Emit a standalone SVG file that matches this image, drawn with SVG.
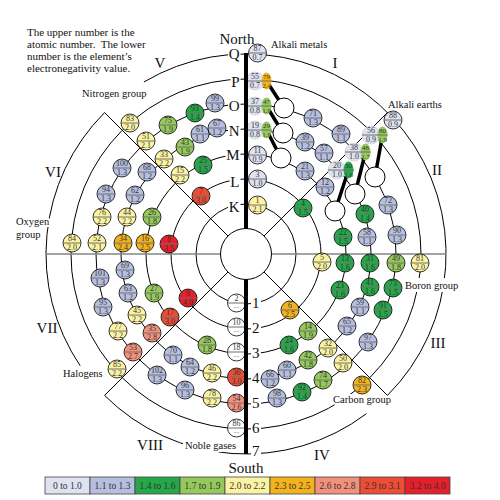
<svg xmlns="http://www.w3.org/2000/svg" width="500" height="500" viewBox="0 0 500 500">
<style>
.ring{fill:none;stroke:#000;stroke-width:1}
.hl{stroke:#858585;stroke-width:1.6;fill:none}
.dg{stroke:#000;stroke-width:1;fill:none}
.tk{stroke:#000;stroke-width:3.5;fill:none}
.vl{stroke:#000;stroke-width:4;fill:none}
.el circle{stroke:#000;stroke-width:.8}
.cb circle{stroke:#c4c4c4;stroke-width:.6}
.cb ellipse{stroke:none}
.el path,.cb path{stroke:#6e6e6e;stroke-width:1}
.el text,.cb text{font-family:'Liberation Serif',serif;font-size:8px;text-anchor:middle;fill:#333}
.cb text.s{font-size:7px}
.w circle{fill:#fff;stroke:#000;stroke-width:1}
.f0{fill:#dfe3f1}.f1{fill:#b7bfe0}.f2{fill:#26a84a}.f3{fill:#95c95c}.f4{fill:#fbf3a2}
.f5{fill:#f4b31c}.f6{fill:#f4917c}.f7{fill:#ee4d35}.f8{fill:#e71f2a}.fw{fill:#fff}
.nd{fill:#999!important}
.bg{fill:#fff}
.big{font-family:'Liberation Serif',serif;font-size:15px;fill:#111}
.rl{font-family:'Liberation Serif',serif;font-size:15px;fill:#111}
.gl{font-family:'Liberation Serif',serif;font-size:10.5px;fill:#111;paint-order:stroke;stroke:#fff;stroke-width:4px;stroke-linejoin:round}
.info{font-family:'Liberation Serif',serif;font-size:11px;fill:#111}
.lg rect{stroke:#444;stroke-width:.8}
.lg text{font-family:'Liberation Serif',serif;font-size:9.5px;text-anchor:middle;fill:#333}
</style>

<g id="connectors">
<circle class="ring" cx="246" cy="254" r="50"/>
<circle class="ring" cx="246" cy="254" r="75"/>
<circle class="ring" cx="246" cy="254" r="100"/>
<circle class="ring" cx="246" cy="254" r="125"/>
<circle class="ring" cx="246" cy="254" r="150"/>
<circle class="ring" cx="246" cy="254" r="175"/>
<path class="ring" d="M143.9 82A200 200 0 0 1 387.42 395.42M366.4 413.7A200 200 0 0 1 104.58 395.42M80.2 365.8A200 200 0 0 1 104.58 112.58"/>
<path class="hl" d="M46 254H446"/>
<path class="dg" d="M104.58 112.58L387.42 395.42M387.42 112.58L104.58 395.42"/>
<path class="tk" d="M266.5 81L284 108M266.5 106L283 133M266.5 130L281 158M382.5 135L375 177M365.5 152L355 194M348.5 170L335 211"/>
</g>

<g id="label-backs">
<rect class="bg" x="228" y="47" width="12.5" height="14"/>
<rect class="bg" x="230.5" y="75" width="10" height="14"/>
<rect class="bg" x="228" y="99" width="12.5" height="14"/>
<rect class="bg" x="228" y="124" width="12.5" height="14"/>
<rect class="bg" x="225.5" y="148" width="15" height="14"/>
<rect class="bg" x="229.5" y="175" width="11" height="14"/>
<rect class="bg" x="228" y="200" width="12.5" height="14"/>
<rect class="bg" x="251" y="296" width="10" height="14"/>
<rect class="bg" x="251" y="321" width="10" height="14"/>
<rect class="bg" x="251" y="346" width="10" height="14"/>
<rect class="bg" x="251" y="371" width="10" height="14"/>
<rect class="bg" x="251" y="396" width="10" height="14"/>
<rect class="bg" x="251" y="421" width="10" height="14"/>
<rect class="bg" x="251" y="445" width="10" height="14"/>
<rect class="bg" x="402" y="278" width="60" height="14"/>
<rect class="bg" x="183" y="440" width="55" height="12"/>
</g>

<g id="whites" class="w">
<circle id="w1" cx="284" cy="108" r="10"/>
<circle id="w2" cx="283" cy="133" r="10"/>
<circle id="w3" cx="281" cy="158" r="10"/>
<circle id="w4" cx="375" cy="177" r="10"/>
<circle id="w5" cx="355" cy="194" r="10"/>
<circle id="w6" cx="335" cy="211" r="10"/>
</g>

<g id="elements">
<g id="e1" class="el" transform="translate(257.5 205)"><circle r="9" class="f4"/><path d="M-9 0h18"/><text y="-1.8">1</text><text y="7">2.1</text></g>
<g id="e2" class="el" transform="translate(236.5 303)"><circle r="9" class="fw"/><path d="M-9 0h18"/><text y="-1.8">2</text><text y="7" class="nd">--</text></g>
<g id="e3" class="el" transform="translate(257.5 179)"><circle r="9" class="f0"/><path d="M-9 0h18"/><text y="-1.8">3</text><text y="7">1.0</text></g>
<g id="e4" class="el" transform="translate(303 208)"><circle r="9" class="f2"/><path d="M-9 0h18"/><text y="-1.8">4</text><text y="7">1.5</text></g>
<g id="e5" class="el" transform="translate(322 262)"><circle r="9" class="f4"/><path d="M-9 0h18"/><text y="-1.8">5</text><text y="7">2.0</text></g>
<g id="e6" class="el" transform="translate(290 310)"><circle r="9" class="f5"/><path d="M-9 0h18"/><text y="-1.8">6</text><text y="7">2.5</text></g>
<g id="e7" class="el" transform="translate(201 196)"><circle r="9" class="f7"/><path d="M-9 0h18"/><text y="-1.8">7</text><text y="7">3.0</text></g>
<g id="e8" class="el" transform="translate(169 244)"><circle r="9" class="f8"/><path d="M-9 0h18"/><text y="-1.8">8</text><text y="7">3.5</text></g>
<g id="e9" class="el" transform="translate(188 298)"><circle r="9" class="f8"/><path d="M-9 0h18"/><text y="-1.8">9</text><text y="7">4.0</text></g>
<g id="e10" class="el" transform="translate(236.5 327)"><circle r="9" class="fw"/><path d="M-9 0h18"/><text y="-1.8">10</text><text y="7" class="nd">--</text></g>
<g id="e11" class="el" transform="translate(257.5 155)"><circle r="9" class="f0"/><path d="M-9 0h18"/><text y="-1.8">11</text><text y="7">0.9</text></g>
<g id="e12" class="el" transform="translate(325 187)"><circle r="9" class="f1"/><path d="M-9 0h18"/><text y="-1.8">12</text><text y="7">1.2</text></g>
<g id="e13" class="el" transform="translate(345 263)"><circle r="9" class="f2"/><path d="M-9 0h18"/><text y="-1.8">13</text><text y="7">1.6</text></g>
<g id="e14" class="el" transform="translate(308 331)"><circle r="9" class="f3"/><path d="M-9 0h18"/><text y="-1.8">14</text><text y="7">1.9</text></g>
<g id="e15" class="el" transform="translate(180 175)"><circle r="9" class="f4"/><path d="M-9 0h18"/><text y="-1.8">15</text><text y="7">2.2</text></g>
<g id="e16" class="el" transform="translate(145 243)"><circle r="9" class="f5"/><path d="M-9 0h18"/><text y="-1.8">16</text><text y="7">2.5</text></g>
<g id="e17" class="el" transform="translate(170 317)"><circle r="9" class="f7"/><path d="M-9 0h18"/><text y="-1.8">17</text><text y="7">3.0</text></g>
<g id="e18" class="el" transform="translate(236.5 352)"><circle r="9" class="fw"/><path d="M-9 0h18"/><text y="-1.8">18</text><text y="7" class="nd">--</text></g>
<g id="e19" class="cb" transform="translate(255 130)"><circle r="9" class="f0"/><path d="M-9 0h25.5"/><text y="-1.8">19</text><text y="7">0.8</text></g>
<g id="e29" class="cb" transform="translate(266.5 130)"><ellipse rx="5" ry="8.5" class="f3"/><path d="M-5 0h10"/><text class="s" y="-1.8">29</text><text class="s" y="7">1.9</text></g>
<g id="e20" class="cb" transform="translate(337 170)"><circle r="9" class="f0"/><path d="M-9 0h25.5"/><text y="-1.8">20</text><text y="7">1.0</text></g>
<g id="e30" class="cb" transform="translate(348.5 170)"><ellipse rx="5" ry="8.5" class="f2"/><path d="M-5 0h10"/><text class="s" y="-1.8">30</text><text class="s" y="7">1.6</text></g>
<g id="e21" class="el" transform="translate(305 171)"><circle r="9" class="f1"/><path d="M-9 0h18"/><text y="-1.8">21</text><text y="7">1.3</text></g>
<g id="e22" class="el" transform="translate(343 237)"><circle r="9" class="f2"/><path d="M-9 0h18"/><text y="-1.8">22</text><text y="7">1.5</text></g>
<g id="e23" class="el" transform="translate(340 290)"><circle r="9" class="f2"/><path d="M-9 0h18"/><text y="-1.8">23</text><text y="7">1.6</text></g>
<g id="e24" class="el" transform="translate(289 345)"><circle r="9" class="f2"/><path d="M-9 0h18"/><text y="-1.8">24</text><text y="7">1.6</text></g>
<g id="e25" class="el" transform="translate(203 165)"><circle r="9" class="f2"/><path d="M-9 0h18"/><text y="-1.8">25</text><text y="7">1.5</text></g>
<g id="e26" class="el" transform="translate(152 217)"><circle r="9" class="f3"/><path d="M-9 0h18"/><text y="-1.8">26</text><text y="7">1.8</text></g>
<g id="e27" class="el" transform="translate(154 293)"><circle r="9" class="f3"/><path d="M-9 0h18"/><text y="-1.8">27</text><text y="7">1.9</text></g>
<g id="e28" class="el" transform="translate(207 345)"><circle r="9" class="f3"/><path d="M-9 0h18"/><text y="-1.8">28</text><text y="7">1.8</text></g>
<g id="e31" class="el" transform="translate(370 263)"><circle r="9" class="f2"/><path d="M-9 0h18"/><text y="-1.8">31</text><text y="7">1.6</text></g>
<g id="e32" class="el" transform="translate(328 348)"><circle r="9" class="f4"/><path d="M-9 0h18"/><text y="-1.8">32</text><text y="7">2.0</text></g>
<g id="e33" class="el" transform="translate(164 159)"><circle r="9" class="f4"/><path d="M-9 0h18"/><text y="-1.8">33</text><text y="7">2.2</text></g>
<g id="e34" class="el" transform="translate(123 243)"><circle r="9" class="f5"/><path d="M-9 0h18"/><text y="-1.8">34</text><text y="7">2.4</text></g>
<g id="e35" class="el" transform="translate(152 333)"><circle r="9" class="f6"/><path d="M-9 0h18"/><text y="-1.8">35</text><text y="7">2.8</text></g>
<g id="e36" class="el" transform="translate(236.5 377)"><circle r="9" class="f7"/><path d="M-9 0h18"/><text y="-1.8">36</text><text y="7">3.0</text></g>
<g id="e37" class="cb" transform="translate(255 106)"><circle r="9" class="f0"/><path d="M-9 0h25.5"/><text y="-1.8">37</text><text y="7">0.8</text></g>
<g id="e47" class="cb" transform="translate(266.5 106)"><ellipse rx="5" ry="8.5" class="f3"/><path d="M-5 0h10"/><text class="s" y="-1.8">47</text><text class="s" y="7">1.9</text></g>
<g id="e38" class="cb" transform="translate(354 152)"><circle r="9" class="f0"/><path d="M-9 0h25.5"/><text y="-1.8">38</text><text y="7">1.0</text></g>
<g id="e48" class="cb" transform="translate(365.5 152)"><ellipse rx="5" ry="8.5" class="f3"/><path d="M-5 0h10"/><text class="s" y="-1.8">48</text><text class="s" y="7">1.7</text></g>
<g id="e39" class="el" transform="translate(305 142)"><circle r="9" class="f1"/><path d="M-9 0h18"/><text y="-1.8">39</text><text y="7">1.2</text></g>
<g id="e40" class="el" transform="translate(365 214)"><circle r="9" class="f2"/><path d="M-9 0h18"/><text y="-1.8">40</text><text y="7">1.4</text></g>
<g id="e41" class="el" transform="translate(370 287)"><circle r="9" class="f2"/><path d="M-9 0h18"/><text y="-1.8">41</text><text y="7">1.6</text></g>
<g id="e42" class="el" transform="translate(308 360)"><circle r="9" class="f3"/><path d="M-9 0h18"/><text y="-1.8">42</text><text y="7">1.8</text></g>
<g id="e43" class="el" transform="translate(185 147)"><circle r="9" class="f3"/><path d="M-9 0h18"/><text y="-1.8">43</text><text y="7">1.9</text></g>
<g id="e44" class="el" transform="translate(127 217)"><circle r="9" class="f4"/><path d="M-9 0h18"/><text y="-1.8">44</text><text y="7">2.2</text></g>
<g id="e45" class="el" transform="translate(137 315)"><circle r="9" class="f4"/><path d="M-9 0h18"/><text y="-1.8">45</text><text y="7">2.2</text></g>
<g id="e46" class="el" transform="translate(212 373)"><circle r="9" class="f4"/><path d="M-9 0h18"/><text y="-1.8">46</text><text y="7">2.2</text></g>
<g id="e49" class="el" transform="translate(396 263)"><circle r="9" class="f3"/><path d="M-9 0h18"/><text y="-1.8">49</text><text y="7">1.8</text></g>
<g id="e50" class="el" transform="translate(343 363)"><circle r="9" class="f4"/><path d="M-9 0h18"/><text y="-1.8">50</text><text y="7">2.0</text></g>
<g id="e51" class="el" transform="translate(146 141)"><circle r="9" class="f4"/><path d="M-9 0h18"/><text y="-1.8">51</text><text y="7">2.1</text></g>
<g id="e52" class="el" transform="translate(97 243)"><circle r="9" class="f4"/><path d="M-9 0h18"/><text y="-1.8">52</text><text y="7">2.1</text></g>
<g id="e53" class="el" transform="translate(133 352)"><circle r="9" class="f6"/><path d="M-9 0h18"/><text y="-1.8">53</text><text y="7">2.7</text></g>
<g id="e54" class="el" transform="translate(236.5 403)"><circle r="9" class="f6"/><path d="M-9 0h18"/><text y="-1.8">54</text><text y="7">2.6</text></g>
<g id="e55" class="cb" transform="translate(255 81)"><circle r="9" class="f0"/><path d="M-9 0h25.5"/><text y="-1.8">55</text><text y="7">0.7</text></g>
<g id="e79" class="cb" transform="translate(266.5 81)"><ellipse rx="5" ry="8.5" class="f5"/><path d="M-5 0h10"/><text class="s" y="-1.8">79</text><text class="s" y="7">2.4</text></g>
<g id="e56" class="cb" transform="translate(371 135)"><circle r="9" class="f0"/><path d="M-9 0h25.5"/><text y="-1.8">56</text><text y="7">0.9</text></g>
<g id="e80" class="cb" transform="translate(382.5 135)"><ellipse rx="5" ry="8.5" class="f3"/><path d="M-5 0h10"/><text class="s" y="-1.8">80</text><text class="s" y="7">1.9</text></g>
<g id="e57" class="el" transform="translate(324 153)"><circle r="9" class="f1"/><path d="M-9 0h18"/><text y="-1.8">57</text><text y="7">1.1</text></g>
<g id="e58" class="el" transform="translate(367 237)"><circle r="9" class="f1"/><path d="M-9 0h18"/><text y="-1.8">58</text><text y="7">1.1</text></g>
<g id="e59" class="el" transform="translate(360 307)"><circle r="9" class="f1"/><path d="M-9 0h18"/><text y="-1.8">59</text><text y="7">1.1</text></g>
<g id="e60" class="el" transform="translate(287 370)"><circle r="9" class="f1"/><path d="M-9 0h18"/><text y="-1.8">60</text><text y="7">1.1</text></g>
<g id="e61" class="el" transform="translate(200 134)"><circle r="9" class="f1"/><path d="M-9 0h18"/><text y="-1.8">61</text><text y="7">1.1</text></g>
<g id="e62" class="el" transform="translate(135 195)"><circle r="9" class="f1"/><path d="M-9 0h18"/><text y="-1.8">62</text><text y="7">1.2</text></g>
<g id="e63" class="el" transform="translate(128 293)"><circle r="9" class="f1"/><path d="M-9 0h18"/><text y="-1.8">63</text><text y="7">1.2</text></g>
<g id="e64" class="el" transform="translate(190 367)"><circle r="9" class="f1"/><path d="M-9 0h18"/><text y="-1.8">64</text><text y="7">1.2</text></g>
<g id="e65" class="el" transform="translate(347 326)"><circle r="9" class="f1"/><path d="M-9 0h18"/><text y="-1.8">65</text><text y="7">1.2</text></g>
<g id="e66" class="el" transform="translate(270 379)"><circle r="9" class="f1"/><path d="M-9 0h18"/><text y="-1.8">66</text><text y="7">1.2</text></g>
<g id="e67" class="el" transform="translate(217 128)"><circle r="9" class="f1"/><path d="M-9 0h18"/><text y="-1.8">67</text><text y="7">1.2</text></g>
<g id="e68" class="el" transform="translate(147 172)"><circle r="9" class="f1"/><path d="M-9 0h18"/><text y="-1.8">68</text><text y="7">1.2</text></g>
<g id="e69" class="el" transform="translate(125 270)"><circle r="9" class="f1"/><path d="M-9 0h18"/><text y="-1.8">69</text><text y="7">1.3</text></g>
<g id="e70" class="el" transform="translate(173 355)"><circle r="9" class="f1"/><path d="M-9 0h18"/><text y="-1.8">70</text><text y="7">1.1</text></g>
<g id="e71" class="el" transform="translate(313 118)"><circle r="9" class="f1"/><path d="M-9 0h18"/><text y="-1.8">71</text><text y="7">1.3</text></g>
<g id="e72" class="el" transform="translate(388 205)"><circle r="9" class="f1"/><path d="M-9 0h18"/><text y="-1.8">72</text><text y="7">1.3</text></g>
<g id="e73" class="el" transform="translate(393 288)"><circle r="9" class="f2"/><path d="M-9 0h18"/><text y="-1.8">73</text><text y="7">1.5</text></g>
<g id="e74" class="el" transform="translate(323 380)"><circle r="9" class="f3"/><path d="M-9 0h18"/><text y="-1.8">74</text><text y="7">1.7</text></g>
<g id="e75" class="el" transform="translate(168 125)"><circle r="9" class="f3"/><path d="M-9 0h18"/><text y="-1.8">75</text><text y="7">1.9</text></g>
<g id="e76" class="el" transform="translate(102 217)"><circle r="9" class="f4"/><path d="M-9 0h18"/><text y="-1.8">76</text><text y="7">2.2</text></g>
<g id="e77" class="el" transform="translate(118 331)"><circle r="9" class="f4"/><path d="M-9 0h18"/><text y="-1.8">77</text><text y="7">2.2</text></g>
<g id="e78" class="el" transform="translate(212 398)"><circle r="9" class="f4"/><path d="M-9 0h18"/><text y="-1.8">78</text><text y="7">2.2</text></g>
<g id="e81" class="el" transform="translate(420 263)"><circle r="9" class="f4"/><path d="M-9 0h18"/><text y="-1.8">81</text><text y="7">2.0</text></g>
<g id="e82" class="el" transform="translate(362 385)"><circle r="9" class="f5"/><path d="M-9 0h18"/><text y="-1.8">82</text><text y="7">2.3</text></g>
<g id="e83" class="el" transform="translate(130 123)"><circle r="9" class="f4"/><path d="M-9 0h18"/><text y="-1.8">83</text><text y="7">2.0</text></g>
<g id="e84" class="el" transform="translate(72 243)"><circle r="9" class="f4"/><path d="M-9 0h18"/><text y="-1.8">84</text><text y="7">2.0</text></g>
<g id="e85" class="el" transform="translate(117 369)"><circle r="9" class="f4"/><path d="M-9 0h18"/><text y="-1.8">85</text><text y="7">2.2</text></g>
<g id="e86" class="el" transform="translate(236.5 428)"><circle r="9" class="fw"/><path d="M-9 0h18"/><text y="-1.8">86</text><text y="7" class="nd">--</text></g>
<g id="e87" class="el" transform="translate(257.5 53)"><circle r="9" class="f0"/><path d="M-9 0h18"/><text y="-1.8">87</text><text y="7">0.7</text></g>
<g id="e88" class="el" transform="translate(393 120)"><circle r="9" class="f0"/><path d="M-9 0h18"/><text y="-1.8">88</text><text y="7">0.9</text></g>
<g id="e89" class="el" transform="translate(341 134)"><circle r="9" class="f1"/><path d="M-9 0h18"/><text y="-1.8">89</text><text y="7">1.1</text></g>
<g id="e90" class="el" transform="translate(397 235)"><circle r="9" class="f1"/><path d="M-9 0h18"/><text y="-1.8">90</text><text y="7">1.3</text></g>
<g id="e91" class="el" transform="translate(383 310)"><circle r="9" class="f2"/><path d="M-9 0h18"/><text y="-1.8">91</text><text y="7">1.5</text></g>
<g id="e92" class="el" transform="translate(302 392)"><circle r="9" class="f2"/><path d="M-9 0h18"/><text y="-1.8">92</text><text y="7">1.4</text></g>
<g id="e93" class="el" transform="translate(195 113)"><circle r="9" class="f2"/><path d="M-9 0h18"/><text y="-1.8">93</text><text y="7">1.4</text></g>
<g id="e94" class="el" transform="translate(106 194)"><circle r="9" class="f1"/><path d="M-9 0h18"/><text y="-1.8">94</text><text y="7">1.3</text></g>
<g id="e95" class="el" transform="translate(103 307)"><circle r="9" class="f1"/><path d="M-9 0h18"/><text y="-1.8">95</text><text y="7">1.3</text></g>
<g id="e96" class="el" transform="translate(185 390)"><circle r="9" class="f1"/><path d="M-9 0h18"/><text y="-1.8">96</text><text y="7">1.3</text></g>
<g id="e97" class="el" transform="translate(368 342)"><circle r="9" class="f1"/><path d="M-9 0h18"/><text y="-1.8">97</text><text y="7">1.3</text></g>
<g id="e98" class="el" transform="translate(277 398)"><circle r="9" class="f1"/><path d="M-9 0h18"/><text y="-1.8">98</text><text y="7">1.3</text></g>
<g id="e99" class="el" transform="translate(215 103)"><circle r="9" class="f1"/><path d="M-9 0h18"/><text y="-1.8">99</text><text y="7">1.3</text></g>
<g id="e100" class="el" transform="translate(122 168)"><circle r="9" class="f1"/><path d="M-9 0h18"/><text y="-1.8">100</text><text y="7">1.3</text></g>
<g id="e101" class="el" transform="translate(100 278)"><circle r="9" class="f1"/><path d="M-9 0h18"/><text y="-1.8">101</text><text y="7">1.3</text></g>
<g id="e102" class="el" transform="translate(157 375)"><circle r="9" class="f1"/><path d="M-9 0h18"/><text y="-1.8">102</text><text y="7">1.3</text></g>
</g>

<g id="axis">
<path class="vl" d="M246 53V454"/>
<circle cx="246" cy="254" r="25.5" fill="#fff" stroke="#000" stroke-width="1"/>
</g>

<g id="labels">
<text class="big" x="237" y="44" text-anchor="middle">North</text>
<text class="big" x="246" y="473" text-anchor="middle">South</text>
<text class="rl" x="239.5" y="59" text-anchor="end">Q</text>
<text class="rl" x="239.5" y="87" text-anchor="end">P</text>
<text class="rl" x="239.5" y="111" text-anchor="end">O</text>
<text class="rl" x="239.5" y="136" text-anchor="end">N</text>
<text class="rl" x="239.5" y="160" text-anchor="end">M</text>
<text class="rl" x="239.5" y="187" text-anchor="end">L</text>
<text class="rl" x="239.5" y="212" text-anchor="end">K</text>
<text class="rl" x="252" y="308">1</text>
<text class="rl" x="252" y="333">2</text>
<text class="rl" x="252" y="358">3</text>
<text class="rl" x="252" y="383">4</text>
<text class="rl" x="252" y="408">5</text>
<text class="rl" x="252" y="433">6</text>
<text class="rl" x="252" y="456">7</text>
<text class="big" x="335" y="68" text-anchor="middle">I</text>
<text class="big" x="437" y="175" text-anchor="middle">II</text>
<text class="big" x="438" y="348" text-anchor="middle">III</text>
<text class="big" x="322" y="460" text-anchor="middle">IV</text>
<text class="big" x="160" y="68" text-anchor="middle">V</text>
<text class="big" x="53" y="177" text-anchor="middle">VI</text>
<text class="big" x="47" y="333" text-anchor="middle">VII</text>
<text class="big" x="150" y="450" text-anchor="middle">VIII</text>
<text class="gl" x="271" y="47.5">Alkali metals</text>
<text class="gl" x="388" y="108">Alkali earths</text>
<text class="gl" x="82" y="97">Nitrogen group</text>
<text class="gl" x="16" y="225">Oxygen</text>
<text class="gl" x="16" y="238">group</text>
<text class="gl" x="63" y="377">Halogens</text>
<text class="gl" x="185" y="449">Noble gases</text>
<text class="gl" x="333" y="403">Carbon group</text>
<text class="gl" x="405" y="289">Boron group</text>
<text class="info" x="27" y="36">The upper number is the</text>
<text class="info" x="27" y="48">atomic number.&#160; The lower</text>
<text class="info" x="27" y="60">number is the element’s</text>
<text class="info" x="27" y="72">electronegativity value.</text>
</g>

<g id="legend" class="lg">
<rect x="45" y="477" width="45" height="17" class="f0"/><text x="67.5" y="489">0 to 1.0</text>
<rect x="90" y="477" width="45" height="17" class="f1"/><text x="112.5" y="489">1.1 to 1.3</text>
<rect x="135" y="477" width="45" height="17" class="f2"/><text x="157.5" y="489">1.4 to 1.6</text>
<rect x="180" y="477" width="45" height="17" class="f3"/><text x="202.5" y="489">1.7 to 1.9</text>
<rect x="225" y="477" width="45" height="17" class="f4"/><text x="247.5" y="489">2.0 to 2.2</text>
<rect x="270" y="477" width="45" height="17" class="f5"/><text x="292.5" y="489">2.3 to 2.5</text>
<rect x="315" y="477" width="45" height="17" class="f6"/><text x="337.5" y="489">2.6 to 2.8</text>
<rect x="360" y="477" width="45" height="17" class="f7"/><text x="382.5" y="489">2.9 to 3.1</text>
<rect x="405" y="477" width="45" height="17" class="f8"/><text x="427.5" y="489">3.2 to 4.0</text>
</g>
</svg>
